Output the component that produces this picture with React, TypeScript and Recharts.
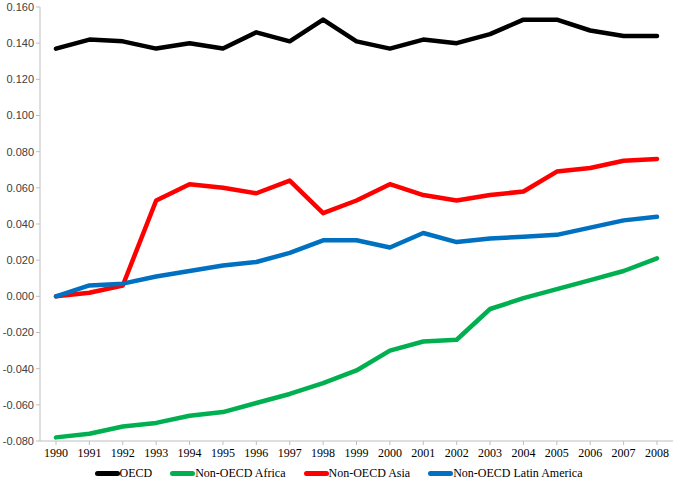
import { LineChart, Line, XAxis, YAxis, Legend } from "recharts";

const years = [
  "1990", "1991", "1992", "1993", "1994", "1995", "1996", "1997", "1998", "1999",
  "2000", "2001", "2002", "2003", "2004", "2005", "2006", "2007", "2008",
];

const oecd = [
  0.137, 0.142, 0.141, 0.137, 0.14, 0.137, 0.146, 0.141, 0.153, 0.141,
  0.137, 0.142, 0.14, 0.145, 0.153, 0.153, 0.147, 0.144, 0.144,
];
const africa = [
  -0.078, -0.076, -0.072, -0.07, -0.066, -0.064, -0.059, -0.054, -0.048, -0.041,
  -0.03, -0.025, -0.024, -0.007, -0.001, 0.004, 0.009, 0.014, 0.021,
];
const asia = [
  0.0, 0.002, 0.006, 0.053, 0.062, 0.06, 0.057, 0.064, 0.046, 0.053,
  0.062, 0.056, 0.053, 0.056, 0.058, 0.069, 0.071, 0.075, 0.076,
];
const latin = [
  0.0, 0.006, 0.007, 0.011, 0.014, 0.017, 0.019, 0.024, 0.031, 0.031,
  0.027, 0.035, 0.03, 0.032, 0.033, 0.034, 0.038, 0.042, 0.044,
];

const yTicks = [
  -0.08, -0.06, -0.04, -0.02, 0, 0.02, 0.04, 0.06, 0.08, 0.1, 0.12, 0.14, 0.16,
];

const series = [
  { key: "oecd", name: "OECD", color: "#000000" },
  { key: "africa", name: "Non-OECD Africa", color: "#00B050" },
  { key: "asia", name: "Non-OECD Asia", color: "#FF0000" },
  { key: "latin", name: "Non-OECD Latin America", color: "#0070C0" },
];

const data = years.map((y, i) => ({
  year: y,
  oecd: oecd[i],
  africa: africa[i],
  asia: asia[i],
  latin: latin[i],
}));

const SERIF = "'Liberation Serif', 'DejaVu Serif', 'Times New Roman', Times, serif";

function LegendBox() {
  return (
    <div
      style={{
        display: "flex",
        justifyContent: "center",
        gap: 18,
        fontFamily: SERIF,
        fontSize: 12,
        lineHeight: "17px",
        height: 17,
        color: "#000",
        paddingLeft: 4,
      }}
    >
      {series.map((s) => (
        <span key={s.key} style={{ display: "inline-flex", alignItems: "center", fontFamily: SERIF }}>
          <span
            style={{
              display: "inline-block",
              width: 25,
              height: 5,
              borderRadius: 3,
              background: s.color,
            }}
          />
          {s.name}
        </span>
      ))}
    </div>
  );
}

export default function App() {
  return (
    <div style={{ position: "absolute", left: 0, top: 0, background: "#fff" }}>
      <LineChart
        width={673}
        height={484}
        data={data}
        margin={{ top: 7, right: 0, left: 0, bottom: 2 }}
      >
        <XAxis
          dataKey="year"
          stroke="#bfbfbf"
          tickLine={{ stroke: "#bfbfbf" }}
          tickSize={4}
          tickMargin={3}
          height={24}
          padding={{ left: 16, right: 16 }}
          tick={{
            fill: "#000",
            fontSize: 12,
            fontFamily: SERIF,
          }}
          interval={0}
        />
        <YAxis
          domain={[-0.08, 0.16]}
          ticks={yTicks}
          width={40}
          stroke="#bfbfbf"
          tickLine={{ stroke: "#bfbfbf" }}
          tickSize={4}
          tickFormatter={(v: number) => v.toFixed(3)}
          tick={{
            fill: "#404040",
            fontSize: 11,
            fontFamily: "'Liberation Sans', Arial, sans-serif",
          }}
        />
        <Legend verticalAlign="bottom" height={17} content={() => <LegendBox />} />
        {series.map((s) => (
          <Line
            key={s.key}
            type="linear"
            dataKey={s.key}
            name={s.name}
            stroke={s.color}
            strokeWidth={4.5}
            strokeLinecap="round"
            strokeLinejoin="round"
            dot={false}
            isAnimationActive={false}
          />
        ))}
      </LineChart>
    </div>
  );
}
